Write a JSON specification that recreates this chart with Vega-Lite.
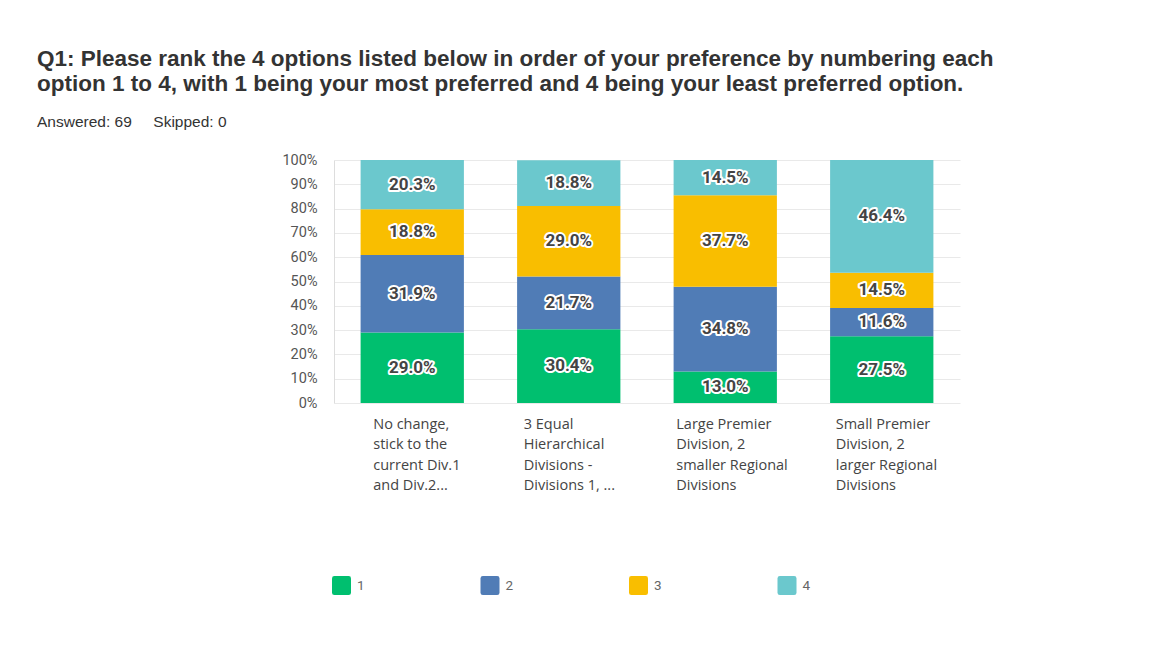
{
  "$schema": "https://vega.github.io/schema/vega-lite/v6.json",
  "autosize": "none",
  "width": 626,
  "height": 243,
  "padding": {"left": 334, "top": 160, "right": 211, "bottom": 256},
  "background": "white",
  "title": {
    "text": ["Q1: Please rank the 4 options listed below in order of your preference by numbering each", "option 1 to 4, with 1 being your most preferred and 4 being your least preferred option."],
    "subtitle": "Answered: 69\u00a0\u00a0\u00a0\u00a0\u00a0Skipped: 0",
    "anchor": "start",
    "frame": "group",
    "dx": -297,
    "offset": 22,
    "font": "Liberation Sans",
    "fontSize": 22.5,
    "fontWeight": "bold",
    "color": "#333333",
    "lineHeight": 25,
    "subtitleFont": "Liberation Sans",
    "subtitleFontSize": 15.5,
    "subtitleColor": "#333333",
    "subtitlePadding": 19
  },
  "data": {
    "values": [
      {"option": "No change, stick to the current Div.1 and Div.2...", "rank": "1", "p": 0.290},
      {"option": "No change, stick to the current Div.1 and Div.2...", "rank": "2", "p": 0.319},
      {"option": "No change, stick to the current Div.1 and Div.2...", "rank": "3", "p": 0.188},
      {"option": "No change, stick to the current Div.1 and Div.2...", "rank": "4", "p": 0.203},
      {"option": "3 Equal Hierarchical Divisions - Divisions 1, ...", "rank": "1", "p": 0.304},
      {"option": "3 Equal Hierarchical Divisions - Divisions 1, ...", "rank": "2", "p": 0.217},
      {"option": "3 Equal Hierarchical Divisions - Divisions 1, ...", "rank": "3", "p": 0.290},
      {"option": "3 Equal Hierarchical Divisions - Divisions 1, ...", "rank": "4", "p": 0.188},
      {"option": "Large Premier Division, 2 smaller Regional Divisions", "rank": "1", "p": 0.130},
      {"option": "Large Premier Division, 2 smaller Regional Divisions", "rank": "2", "p": 0.348},
      {"option": "Large Premier Division, 2 smaller Regional Divisions", "rank": "3", "p": 0.377},
      {"option": "Large Premier Division, 2 smaller Regional Divisions", "rank": "4", "p": 0.145},
      {"option": "Small Premier Division, 2 larger Regional Divisions", "rank": "1", "p": 0.275},
      {"option": "Small Premier Division, 2 larger Regional Divisions", "rank": "2", "p": 0.116},
      {"option": "Small Premier Division, 2 larger Regional Divisions", "rank": "3", "p": 0.145},
      {"option": "Small Premier Division, 2 larger Regional Divisions", "rank": "4", "p": 0.464}
    ]
  },
  "encoding": {
    "x": {
      "field": "option",
      "type": "nominal",
      "sort": null,
      "scale": {"paddingInner": 0.34, "paddingOuter": 0.17},
      "axis": {
        "title": null,
        "labelAngle": 0,
        "ticks": false,
        "domain": false,
        "labelAlign": "left",
        "labelBaseline": "top",
        "labelPadding": 14,
        "labelFont": "Open Sans",
        "labelFontSize": 14.5,
        "labelColor": "#444444",
        "labelLineHeight": 20.5,
        "labelLimit": 200,
        "labelOverlap": false,
        "labelOffset": {
          "condition": [
            {"test": "datum.value == 'No change, stick to the current Div.1 and Div.2...'", "value": -39},
            {"test": "datum.value == '3 Equal Hierarchical Divisions - Divisions 1, ...'", "value": -45},
            {"test": "datum.value == 'Large Premier Division, 2 smaller Regional Divisions'", "value": -49}
          ],
          "value": -46
        },
        "labelExpr": "datum.value == 'No change, stick to the current Div.1 and Div.2...' ? ['No change,', 'stick to the', 'current Div.1', 'and Div.2...'] : datum.value == '3 Equal Hierarchical Divisions - Divisions 1, ...' ? ['3 Equal', 'Hierarchical', 'Divisions -', 'Divisions 1, ...'] : datum.value == 'Large Premier Division, 2 smaller Regional Divisions' ? ['Large Premier', 'Division, 2', 'smaller Regional', 'Divisions'] : ['Small Premier', 'Division, 2', 'larger Regional', 'Divisions']"
      }
    }
  },
  "layer": [
    {
      "mark": {"type": "bar"},
      "encoding": {
        "y": {
          "field": "p",
          "type": "quantitative",
          "stack": "zero",
          "scale": {"domain": [0, 1], "nice": false},
          "axis": {
            "title": null,
            "format": ".0%",
            "values": [0, 0.1, 0.2, 0.3, 0.4, 0.5, 0.6, 0.7, 0.8, 0.9, 1],
            "labelOverlap": false,
            "ticks": false,
            "domain": true,
            "domainColor": "#dddddd",
            "gridColor": "#e9e9e9",
            "labelFont": "Roboto",
            "labelFontSize": 14.5,
            "labelColor": "#555555",
            "labelPadding": 17
          }
        },
        "color": {
          "field": "rank",
          "type": "nominal",
          "scale": {"domain": ["1", "2", "3", "4"], "range": ["#00bf6f", "#507cb6", "#f9be00", "#6bc8cd"]},
          "legend": {
            "title": null,
            "orient": "none",
            "legendX": -2,
            "legendY": 416,
            "direction": "horizontal",
            "columns": 4,
            "columnPadding": 115.5,
            "symbolType": "M-0.75,-1L0.75,-1Q1,-1 1,-0.75L1,0.75Q1,1 0.75,1L-0.75,1Q-1,1 -1,0.75L-1,-0.75Q-1,-1 -0.75,-1Z",
            "symbolSize": 361,
            "symbolStrokeWidth": 0,
            "symbolOpacity": 1,
            "labelFont": "Roboto",
            "labelFontSize": 13.5,
            "labelColor": "#666666",
            "labelOffset": 6
          }
        },
        "order": {"field": "rank", "type": "ordinal", "sort": "ascending"}
      }
    },
    {
      "transform": [
        {"stack": "p", "groupby": ["option"], "sort": [{"field": "rank", "order": "ascending"}], "as": ["s0", "s1"]},
        {"fold": ["s0", "s1"], "as": ["edge", "v"]}
      ],
      "mark": {"type": "text", "font": "Roboto", "fontSize": 17, "fontWeight": "bold", "fill": "white", "stroke": "white", "strokeWidth": 4, "strokeJoin": "round", "baseline": "middle"},
      "encoding": {
        "y": {
          "aggregate": "mean", "field": "v", "type": "quantitative",
          "axis": {
            "title": null,
            "format": ".0%",
            "values": [0, 0.1, 0.2, 0.3, 0.4, 0.5, 0.6, 0.7, 0.8, 0.9, 1],
            "labelOverlap": false,
            "ticks": false,
            "domain": true,
            "domainColor": "#dddddd",
            "gridColor": "#e9e9e9",
            "labelFont": "Roboto",
            "labelFontSize": 14.5,
            "labelColor": "#555555",
            "labelPadding": 17
          }
        },
        "detail": {"field": "rank"},
        "text": {"field": "p", "type": "quantitative", "format": ".1%"}
      }
    },
    {
      "transform": [
        {"stack": "p", "groupby": ["option"], "sort": [{"field": "rank", "order": "ascending"}], "as": ["s0", "s1"]},
        {"fold": ["s0", "s1"], "as": ["edge", "v"]}
      ],
      "mark": {"type": "text", "font": "Roboto", "fontSize": 17, "fontWeight": "bold", "fill": "#444444", "baseline": "middle"},
      "encoding": {
        "y": {
          "aggregate": "mean", "field": "v", "type": "quantitative",
          "axis": {
            "title": null,
            "format": ".0%",
            "values": [0, 0.1, 0.2, 0.3, 0.4, 0.5, 0.6, 0.7, 0.8, 0.9, 1],
            "labelOverlap": false,
            "ticks": false,
            "domain": true,
            "domainColor": "#dddddd",
            "gridColor": "#e9e9e9",
            "labelFont": "Roboto",
            "labelFontSize": 14.5,
            "labelColor": "#555555",
            "labelPadding": 17
          }
        },
        "detail": {"field": "rank"},
        "text": {"field": "p", "type": "quantitative", "format": ".1%"}
      }
    }
  ],
  "config": {
    "view": {"stroke": null}
  }
}
